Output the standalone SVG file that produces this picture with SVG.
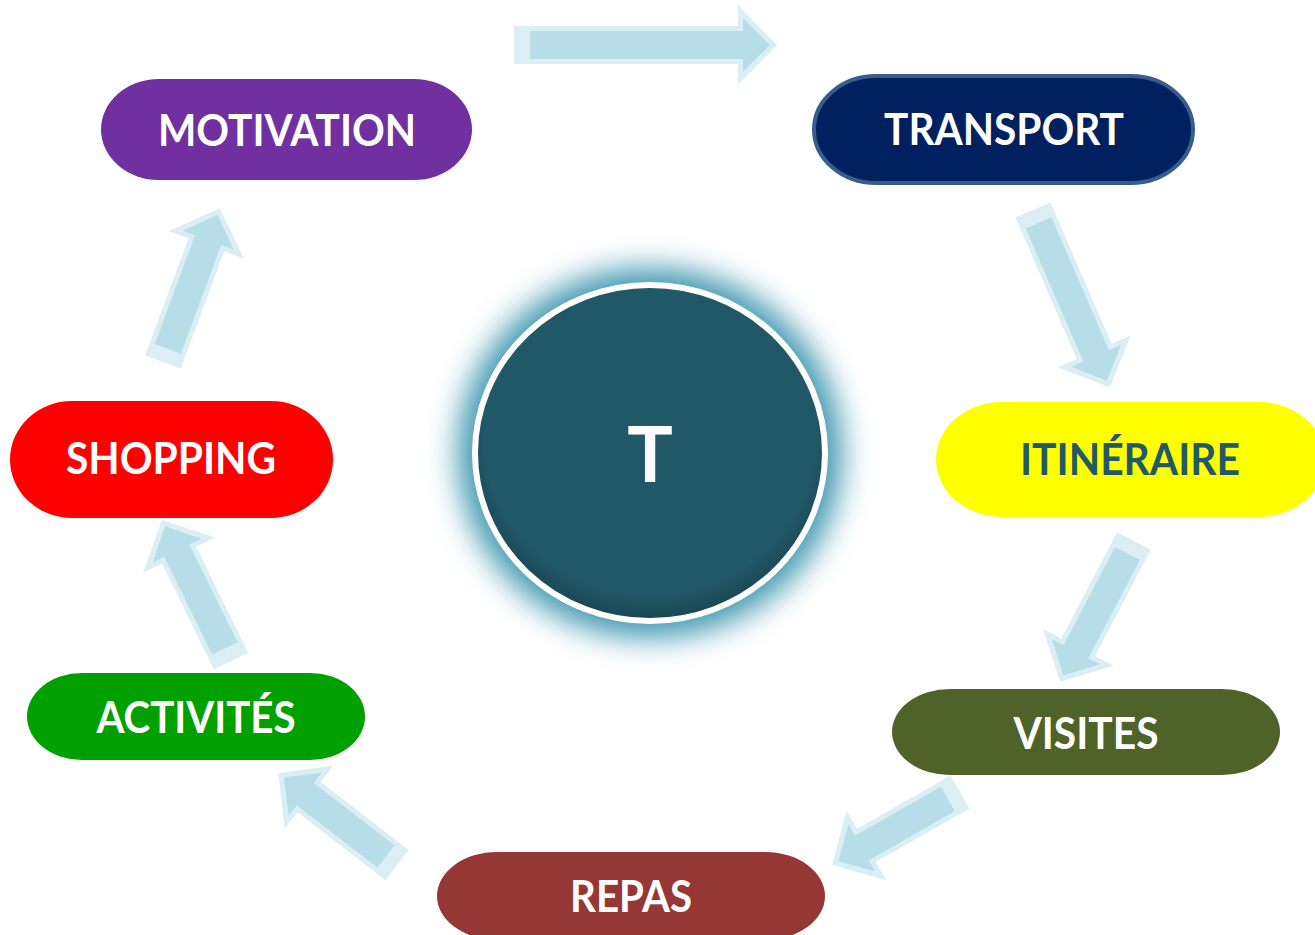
<svg xmlns="http://www.w3.org/2000/svg" width="1315" height="935" viewBox="0 0 1315 935">
<defs>
<style>
.lbl{font-family:Lato,"Open Sans","Liberation Sans",sans-serif;font-weight:bold;font-size:44px;text-anchor:middle}
.w{fill:#ffffff}
.ao{fill:#daeef3}
.ai{fill:#b7dee8}
</style>
<filter id="glow" x="-30%" y="-30%" width="160%" height="160%">
<feGaussianBlur stdDeviation="15"/>
</filter>
<radialGradient id="inner" cx="50%" cy="45%" r="55%">
<stop offset="0.85" stop-color="#215868"/>
<stop offset="1" stop-color="#1a4653"/>
</radialGradient>
</defs>
<rect width="1315" height="935" fill="#ffffff"/>

<g id="connectors">
<g transform="translate(514,45)">
<polygon class="ao" points="0,-19 224,-19 224,-40 263,0 224,40 224,19 0,19"/>
<polygon class="ai" points="16,-14 229,-14 229,-27 256,0 229,27 229,14 16,14"/>
</g>
<g transform="translate(1033,210) rotate(66.6)">
<polygon class="ao" points="0,-19 154,-19 154,-40 193,0 154,40 154,19 0,19"/>
<polygon class="ai" points="14,-14 159,-14 159,-27 186,0 159,27 159,14 14,14"/>
</g>
<g transform="translate(1134,541) rotate(117.7)">
<polygon class="ao" points="0,-19 120,-19 120,-40 159,0 120,40 120,19 0,19"/>
<polygon class="ai" points="14,-14 125,-14 125,-27 152,0 125,27 125,14 14,14"/>
</g>
<g transform="translate(960,792) rotate(150.3)">
<polygon class="ao" points="0,-19 108,-19 108,-40 147,0 108,40 108,19 0,19"/>
<polygon class="ai" points="14,-14 113,-14 113,-27 140,0 113,27 113,14 14,14"/>
</g>
<g transform="translate(397,865) rotate(-142.3)">
<polygon class="ao" points="0,-19 111,-19 111,-40 150,0 111,40 111,19 0,19"/>
<polygon class="ai" points="14,-14 116,-14 116,-27 143,0 116,27 116,14 14,14"/>
</g>
<g transform="translate(231,661) rotate(-116.1)">
<polygon class="ao" points="0,-19 118,-19 118,-40 157,0 118,40 118,19 0,19"/>
<polygon class="ai" points="14,-14 123,-14 123,-27 150,0 123,27 123,14 14,14"/>
</g>
<g transform="translate(163,362) rotate(-69.7)">
<polygon class="ao" points="0,-19 125,-19 125,-40 164,0 125,40 125,19 0,19"/>
<polygon class="ai" points="14,-14 130,-14 130,-27 157,0 130,27 130,14 14,14"/>
</g>
</g>

<g id="center">
<ellipse cx="650" cy="453" rx="192" ry="185" fill="#3f98b0" filter="url(#glow)"/>
<ellipse cx="650" cy="453" rx="175" ry="168" fill="url(#inner)" stroke="#ffffff" stroke-width="6"/>
<text x="650" y="482" font-family="Lato,'Open Sans','Liberation Sans',sans-serif" font-weight="bold" font-size="76" text-anchor="middle" fill="#ffffff">T</text>
</g>

<g id="motivation">
<rect x="101" y="79" width="371" height="101" rx="58" ry="50.5" fill="#7030a0"/>
<text class="lbl w" x="287" y="146" textLength="258" lengthAdjust="spacingAndGlyphs">MOTIVATION</text>
</g>
<g id="transport">
<rect x="814" y="76" width="379" height="107" rx="62" ry="53.5" fill="#002060" stroke="#385d8a" stroke-width="4"/>
<text class="lbl w" x="1004" y="145" textLength="240" lengthAdjust="spacingAndGlyphs">TRANSPORT</text>
</g>
<g id="itineraire">
<rect x="936" y="402" width="389" height="115" rx="66" ry="57.5" fill="#ffff00"/>
<text class="lbl" x="1130" y="475" fill="#215968" textLength="220" lengthAdjust="spacingAndGlyphs">ITINÉRAIRE</text>
</g>
<g id="visites">
<rect x="892" y="689" width="388" height="86" rx="58" ry="43" fill="#4f6228"/>
<text class="lbl w" x="1086" y="749" textLength="145" lengthAdjust="spacingAndGlyphs">VISITES</text>
</g>
<g id="repas">
<rect x="437" y="852" width="388" height="88" rx="60" ry="44" fill="#953735"/>
<text class="lbl w" x="631" y="912" textLength="122" lengthAdjust="spacingAndGlyphs">REPAS</text>
</g>
<g id="activites">
<rect x="27" y="673" width="338" height="87" rx="55" ry="43.5" fill="#00a000"/>
<text class="lbl w" x="196" y="733" textLength="199" lengthAdjust="spacingAndGlyphs">ACTIVITÉS</text>
</g>
<g id="shopping">
<rect x="10" y="401" width="323" height="117" rx="62" ry="58.5" fill="#ff0000"/>
<text class="lbl w" x="171" y="474" textLength="210" lengthAdjust="spacingAndGlyphs">SHOPPING</text>
</g>
</svg>
